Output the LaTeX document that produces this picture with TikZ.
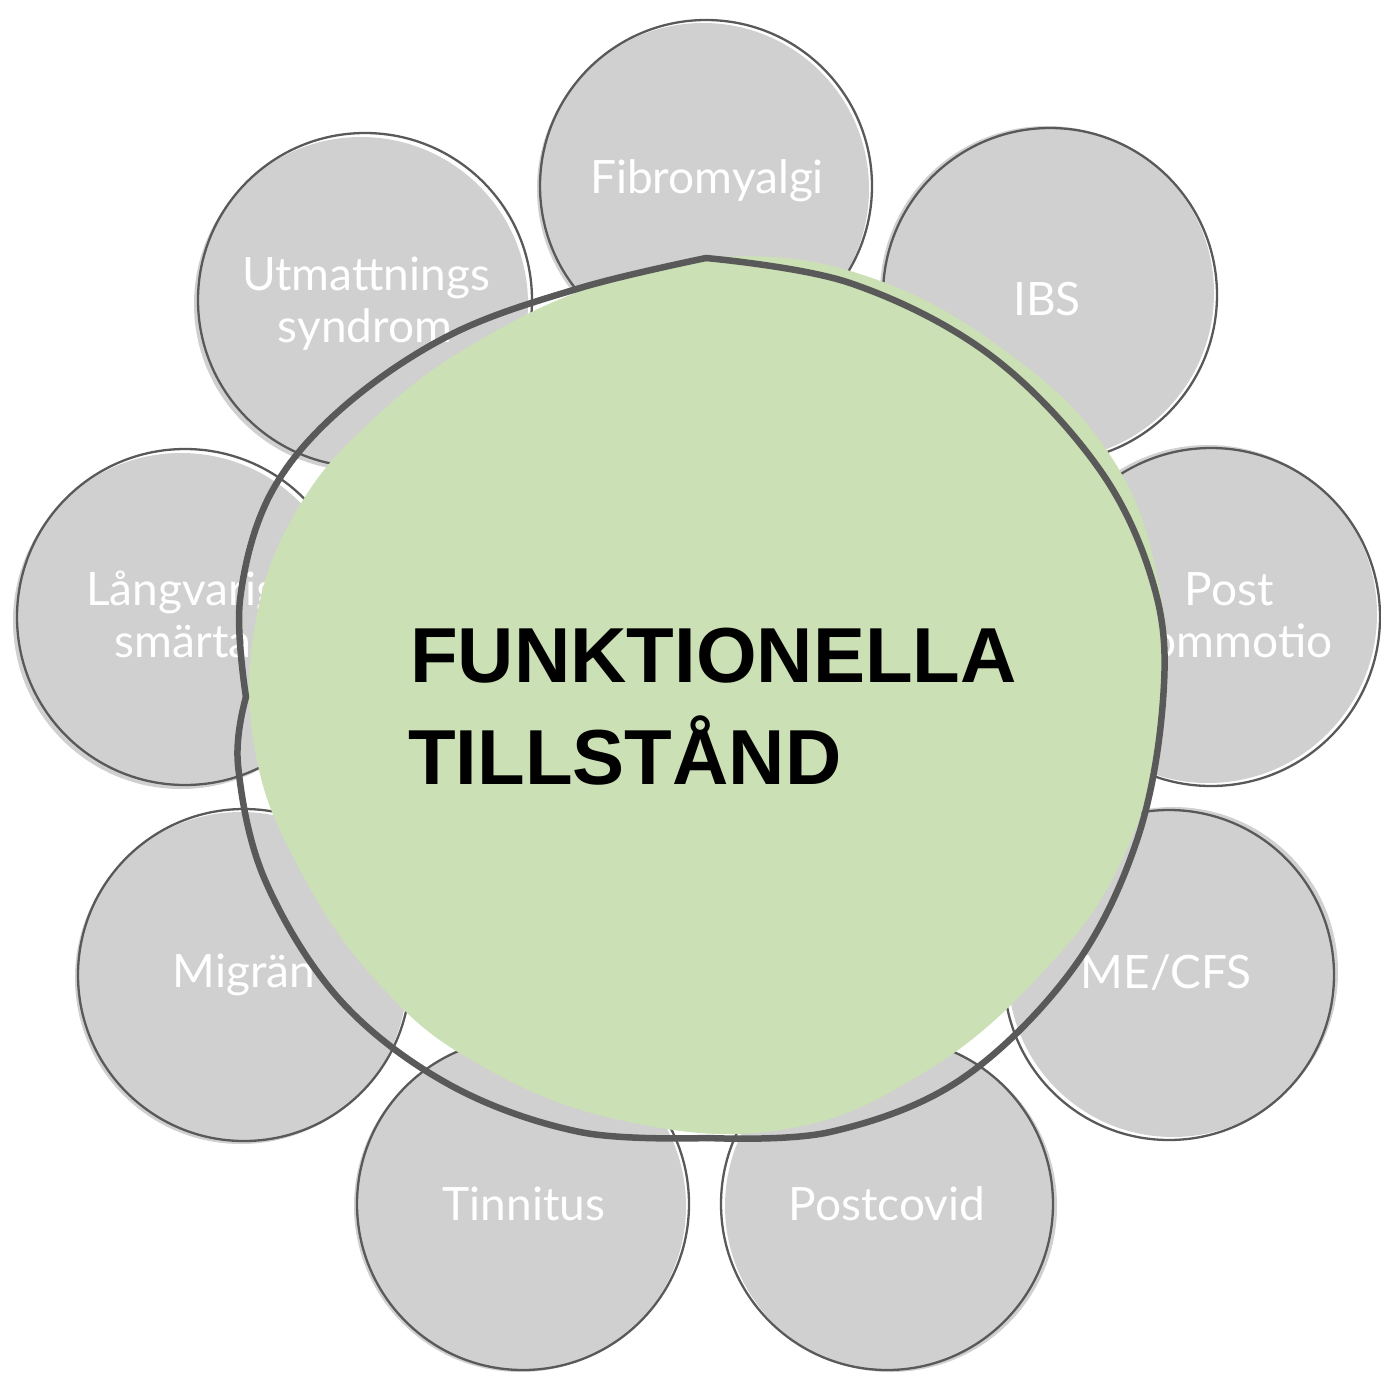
\documentclass[tikz,border=0pt]{standalone}
\usepackage{fontspec}
\newfontfamily\lblfont{Lato}
\newfontfamily\ttlfont{Liberation Sans}
\definecolor{bubgray}{HTML}{D0D0D0}
\definecolor{lingray}{HTML}{595959}
\definecolor{ctrgreen}{HTML}{CBE0B4}
\tikzset{
  bubfill/.style={fill=bubgray},
  bubline/.style={circle, draw=lingray, line width=2.3pt, inner sep=0pt},
  lbl/.style={text=white, font=\lblfont\fontsize{46}{52}\selectfont, anchor=base, inner sep=0pt},
  ttl/.style={text=black, font=\ttlfont\bfseries\fontsize{78}{100}\selectfont, anchor=base west, inner sep=0pt},
  ctrfill/.style={fill=ctrgreen},
  ctrline/.style={draw=lingray, line width=6.5pt, line join=round, line cap=round}
}
\begin{document}
\begin{tikzpicture}[x=1pt,y=-1pt]
\useasboundingbox (0,0) rectangle (1381,1379);
% gray bubble fills (slightly offset, hand-drawn look)
\fill[bubfill] (703,189) circle (166);
\fill[bubfill] (1047,293) circle (167);
\fill[bubfill] (361,304) circle (167);
\fill[bubfill] (181,621) circle (168);
\fill[bubfill] (1208,614) circle (169);
\fill[bubfill] (1173,972) circle (165);
\fill[bubfill] (241,978) circle (166);
\fill[bubfill] (520,1206) circle (166);
\fill[bubfill] (891,1206) circle (166);
% bubble outlines
\node[bubline, minimum size=332pt] (fib) at (706,186) {};
\node[bubline, minimum size=334pt] (ibs) at (1050,295) {};
\node[bubline, minimum size=334pt] (utm) at (365,300) {};
\node[bubline, minimum size=336pt] (lang) at (185,617) {};
\node[bubline, minimum size=338pt] (post) at (1211,617) {};
\node[bubline, minimum size=330pt] (me) at (1169,975) {};
\node[bubline, minimum size=332pt] (mig) at (244,975) {};
\node[bubline, minimum size=332pt] (tin) at (523,1204) {};
\node[bubline, minimum size=332pt] (pcv) at (887,1204) {};
% labels
\node[lbl] (fibT) at (707,193) {Fibromyalgi};
\node[lbl] (ibsT) at (1047,315) {IBS};
\node[lbl] (utmT1) at (366,290) {Utmattnings};
\node[lbl] (utmT2) at (365,342) {syndrom};
\node[lbl] (langT1) at (183,605) {Långvarig};
\node[lbl] (langT2) at (183,657) {smärta};
\node[lbl] (postT1) at (1229,605) {Post};
\node[lbl] (postT2) at (1231,657) {commotio};
\node[lbl] (meT) at (1166,988) {ME/CFS};
\node[lbl] (migT) at (244,987) {Migrän};
\node[lbl] (tinT) at (524,1220) {Tinnitus};
\node[lbl] (pcvT) at (887,1220) {Postcovid};
% central green shape
\fill[ctrfill] plot[smooth cycle, tension=0.7] coordinates {
  (720,257) (860,274) (1000,347) (1110,455) (1160,590) (1162,720)
  (1122,860) (1040,975) (920,1075) (780,1130) (620,1120) (480,1065)
  (380,985) (300,870) (255,750) (256,620) (300,505) (380,413) (480,340) (600,284)};
\draw[ctrline] plot[smooth, tension=0.6] coordinates {
  (706,258) (850,283) (990,355) (1100,470) (1155,590) (1163,700)
  (1137,840) (1072,970) (960,1080) (830,1132) (708,1138)};
\draw[ctrline] plot[smooth, tension=0.6] coordinates {
  (708,1138) (580,1132) (450,1085) (340,1000) (265,880) (238,765) (246,697)};
\draw[ctrline] plot[smooth, tension=0.6] coordinates {
  (246,697) (240,600) (270,495) (340,410) (450,335) (580,288) (706,258)};
% title
\node[ttl] (ttl1) at (410,682) {FUNKTIONELLA};
\node[ttl] (ttl2) at (408,784) {TILLSTÅND};
\end{tikzpicture}
\end{document}
